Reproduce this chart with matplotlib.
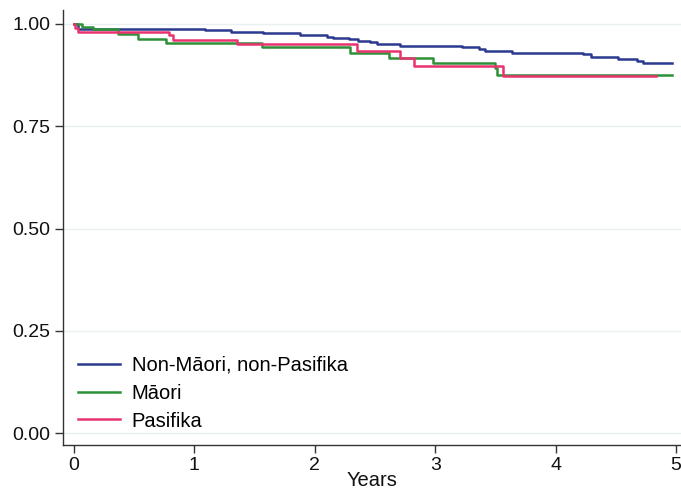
import matplotlib
matplotlib.use("Agg")
import matplotlib.pyplot as plt

# Kaplan-Meier style step data (years, survival)
blue_t = [0, 0.03, 1.09, 1.30, 1.57, 1.88, 2.10, 2.15, 2.28, 2.36, 2.46, 2.52, 2.71,
          3.22, 3.36, 3.41, 3.64, 4.23, 4.29, 4.52, 4.68, 4.73, 4.97]
blue_s = [1.0, 0.988, 0.985, 0.980, 0.977, 0.974, 0.969, 0.966, 0.963, 0.959, 0.955, 0.951,
          0.947, 0.943, 0.938, 0.934, 0.930, 0.926, 0.920, 0.915, 0.910, 0.905, 0.905]

green_t = [0, 0.064, 0.16, 0.365, 0.53, 0.76, 1.56, 2.29, 2.62, 2.98, 3.50, 3.51, 4.97]
green_s = [1.0, 0.992, 0.988, 0.975, 0.964, 0.954, 0.944, 0.930, 0.918, 0.905, 0.892, 0.876, 0.876]

pink_t = [0, 0.005, 0.035, 0.79, 0.82, 1.35, 2.35, 2.71, 2.82, 3.56, 4.83]
pink_s = [1.0, 0.990, 0.981, 0.973, 0.961, 0.950, 0.934, 0.918, 0.897, 0.873, 0.873]

labels = ["Non-Māori, non-Pasifika", "Māori", "Pasifika"]
colors = ["#2b3990", "#2e9138", "#e8336f"]

xticks = [0, 1, 2, 3, 4, 5]
yticks = [0.0, 0.25, 0.5, 0.75, 1.0]
ytick_labels = ["0.00", "0.25", "0.50", "0.75", "1.00"]

plt.rcParams['font.family'] = ['Liberation Sans', 'DejaVu Sans']

fig = plt.figure(figsize=(6.81, 4.93), dpi=100)
ax = fig.add_axes([63 / 681, 48 / 493, 618 / 681, 435 / 493])

for t, s, lab, c in zip([blue_t, green_t, pink_t], [blue_s, green_s, pink_s], labels, colors):
    ax.step(t, s, where='post', color=c, lw=1.8, label=lab)

ax.set_xlim(-11 / 120.4, 607 / 120.4)
ax.set_ylim(-12 / 409, 423 / 409)
ax.set_xticks(xticks)
ax.set_yticks(yticks)
ax.set_yticklabels(ytick_labels)
ax.tick_params(labelsize=14, length=6, width=1, color="#333333", labelcolor="#111111", pad=3)

for sp in ["top", "right"]:
    ax.spines[sp].set_visible(False)
for sp in ["left", "bottom"]:
    ax.spines[sp].set_color("#333333")
    ax.spines[sp].set_linewidth(1)

ax.yaxis.grid(True, color="#eaf0f2", lw=1)
ax.set_axisbelow(True)

ax.set_xlabel("Years", fontsize=14.5, labelpad=-2.5, color="#111111")

leg = ax.legend(loc="lower left", bbox_to_anchor=(0.0185, 0.024), frameon=False,
                fontsize=14.5, handlelength=2.04, handletextpad=0.6, labelspacing=0.44,
                borderaxespad=0, borderpad=0.2)

fig.savefig("out.png", dpi=100)
